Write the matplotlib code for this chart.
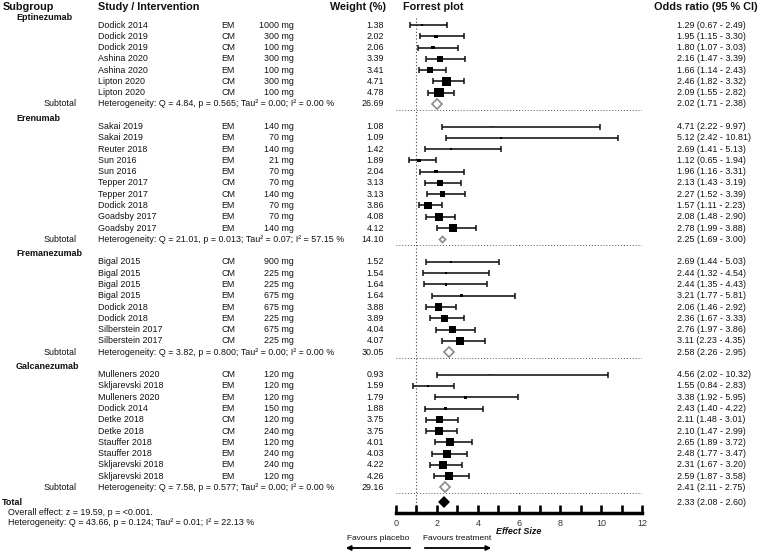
import matplotlib
matplotlib.use('Agg')
import matplotlib.pyplot as plt
from matplotlib.transforms import blended_transform_factory
from matplotlib.patches import FancyArrowPatch

plt.rcParams['font.family'] = ['Liberation Sans', 'DejaVu Sans']

# ---------------- data ----------------
groups = ['Eptinezumab', 'Erenumab', 'Fremanezumab', 'Galcanezumab']

ept_study = ['Dodick 2014', 'Dodick 2019', 'Dodick 2019', 'Ashina 2020', 'Ashina 2020', 'Lipton 2020', 'Lipton 2020']
ept_type = ['EM', 'CM', 'CM', 'EM', 'EM', 'CM', 'CM']
ept_dose = ['1000 mg', '300 mg', '100 mg', '300 mg', '100 mg', '300 mg', '100 mg']
ept_weight = [1.38, 2.02, 2.06, 3.39, 3.41, 4.71, 4.78]
ept_or = [1.29, 1.95, 1.80, 2.16, 1.66, 2.46, 2.09]
ept_lo = [0.67, 1.15, 1.07, 1.47, 1.14, 1.82, 1.55]
ept_hi = [2.49, 3.30, 3.03, 3.39, 2.43, 3.32, 2.82]

ere_study = ['Sakai 2019', 'Sakai 2019', 'Reuter 2018', 'Sun 2016', 'Sun 2016', 'Tepper 2017', 'Tepper 2017',
             'Dodick 2018', 'Goadsby 2017', 'Goadsby 2017']
ere_type = ['EM', 'EM', 'EM', 'EM', 'EM', 'CM', 'CM', 'EM', 'EM', 'EM']
ere_dose = ['140 mg', '70 mg', '140 mg', '21 mg', '70 mg', '70 mg', '140 mg', '70 mg', '70 mg', '140 mg']
ere_weight = [1.08, 1.09, 1.42, 1.89, 2.04, 3.13, 3.13, 3.86, 4.08, 4.12]
ere_or = [4.71, 5.12, 2.69, 1.12, 1.96, 2.13, 2.27, 1.57, 2.08, 2.78]
ere_lo = [2.22, 2.42, 1.41, 0.65, 1.16, 1.43, 1.52, 1.11, 1.48, 1.99]
ere_hi = [9.97, 10.81, 5.13, 1.94, 3.31, 3.19, 3.39, 2.23, 2.90, 3.88]

fre_study = ['Bigal 2015', 'Bigal 2015', 'Bigal 2015', 'Bigal 2015', 'Dodick 2018', 'Dodick 2018',
             'Silberstein 2017', 'Silberstein 2017']
fre_type = ['CM', 'CM', 'EM', 'EM', 'EM', 'EM', 'CM', 'CM']
fre_dose = ['900 mg', '225 mg', '225 mg', '675 mg', '675 mg', '225 mg', '675 mg', '225 mg']
fre_weight = [1.52, 1.54, 1.64, 1.64, 3.88, 3.89, 4.04, 4.07]
fre_or = [2.69, 2.44, 2.44, 3.21, 2.06, 2.36, 2.76, 3.11]
fre_lo = [1.44, 1.32, 1.35, 1.77, 1.46, 1.67, 1.97, 2.23]
fre_hi = [5.03, 4.54, 4.43, 5.81, 2.92, 3.33, 3.86, 4.35]

gal_study = ['Mulleners 2020', 'Skljarevski 2018', 'Mulleners 2020', 'Dodick 2014', 'Detke 2018', 'Detke 2018',
             'Stauffer 2018', 'Stauffer 2018', 'Skljarevski 2018', 'Skljarevski 2018']
gal_type = ['CM', 'EM', 'EM', 'EM', 'CM', 'CM', 'EM', 'EM', 'EM', 'EM']
gal_dose = ['120 mg', '120 mg', '120 mg', '150 mg', '120 mg', '240 mg', '120 mg', '240 mg', '240 mg', '120 mg']
gal_weight = [0.93, 1.59, 1.79, 1.88, 3.75, 3.75, 4.01, 4.03, 4.22, 4.26]
gal_or = [4.56, 1.55, 3.38, 2.43, 2.11, 2.10, 2.65, 2.48, 2.31, 2.59]
gal_lo = [2.02, 0.84, 1.92, 1.40, 1.48, 1.47, 1.89, 1.77, 1.67, 1.87]
gal_hi = [10.32, 2.83, 5.95, 4.22, 3.01, 2.99, 3.72, 3.47, 3.20, 3.58]

subtotal_het = ['Heterogeneity: Q = 4.84, p = 0.565; Tau\u00b2 = 0.00; I\u00b2 = 0.00 %',
                'Heterogeneity: Q = 21.01, p = 0.013; Tau\u00b2 = 0.07; I\u00b2 = 57.15 %',
                'Heterogeneity: Q = 3.82, p = 0.800; Tau\u00b2 = 0.00; I\u00b2 = 0.00 %',
                'Heterogeneity: Q = 7.58, p = 0.577; Tau\u00b2 = 0.00; I\u00b2 = 0.00 %']
subtotal_weight = [26.69, 14.10, 30.05, 29.16]
subtotal_or = [2.02, 2.25, 2.58, 2.41]
subtotal_lo = [1.71, 1.69, 2.26, 2.11]
subtotal_hi = [2.38, 3.00, 2.95, 2.75]

total_or, total_lo, total_hi = 2.33, 2.08, 2.60
total_effect = 'Overall effect: z = 19.59, p = <0.001.'
total_het = 'Heterogeneity: Q = 43.66, p = 0.124; Tau\u00b2 = 0.01; I\u00b2 = 22.13 %'

x_ticks = [0, 2, 4, 6, 8, 10, 12]

group_data = [
    (ept_study, ept_type, ept_dose, ept_weight, ept_or, ept_lo, ept_hi),
    (ere_study, ere_type, ere_dose, ere_weight, ere_or, ere_lo, ere_hi),
    (fre_study, fre_type, fre_dose, fre_weight, fre_or, fre_lo, fre_hi),
    (gal_study, gal_type, gal_dose, gal_weight, gal_or, gal_lo, gal_hi),
]

# ---------------- layout ----------------
W, H = 760, 552
ROW0, STEP = 25.0, 11.28          # pixel y of first row, row spacing
AX_LEFT, AX_RIGHT, AX_BOTTOM = 396, 642, 513

def idx(ypx):
    return (ypx - ROW0) / STEP

fig = plt.figure(figsize=(W / 100, H / 100), dpi=100)
ax = fig.add_axes([AX_LEFT / W, (H - AX_BOTTOM) / H, (AX_RIGHT - AX_LEFT) / W, AX_BOTTOM / H])
ax.set_xlim(0, 12)
ax.set_ylim(idx(AX_BOTTOM), idx(0))
ax.patch.set_visible(False)
for s in ['top', 'left', 'right']:
    ax.spines[s].set_visible(False)
ax.spines['bottom'].set_linewidth(2.5)
ax.set_yticks([])
ax.set_xticks(x_ticks)
ax.set_xticks(range(1, 12, 2), minor=True)
ax.tick_params(axis='x', which='both', direction='in', length=5.5, width=1.9, colors='black',
               labelsize=6.5, labelcolor='#333333', pad=4.5)

tr = blended_transform_factory(fig.transFigure, ax.transData)

def txt(xpx, y, s, ha='left', size=6.4, weight='normal', style='normal', color='#111111'):
    t = fig.text(xpx / W, 0, s, transform=tr, ha=ha, va='center', fontsize=size,
                 fontweight=weight, fontstyle=style, color=color)
    t.set_position((xpx / W, y))

# header
hy = -1.6
txt(3, hy, 'Subgroup', size=7.8, weight='bold')
txt(98, hy, 'Study / Intervention', size=7.8, weight='bold')
txt(386, hy, 'Weight (%)', ha='right', size=7.8, weight='bold')
txt(403, hy, 'Forrest plot', size=7.8, weight='bold')
txt(654, hy, 'Odds ratio (95 % CI)', size=7.8, weight='bold')

def sq_side_px(w):
    return max(1.6, 2.15 * w - 0.9)

PT = 0.72  # points per pixel at 100 dpi
ax.vlines(1, idx(18), idx(AX_BOTTOM), colors='#444444', linestyles=(0, (1, 2)), lw=0.8, zorder=1)

start = 0
last_sub = 0
for g, name in enumerate(groups):
    study, typ, dose, weight, orv, lo, hi = group_data[g]
    n = len(study)
    txt(16, start - 0.7, name, size=6.5, weight='bold')
    ys = [start + i for i in range(n)]
    for i in range(n):
        y = ys[i]
        txt(98, y, study[i])
        txt(228, y, typ[i], ha='center')
        txt(294, y, dose[i], ha='right')
        txt(384, y, f'{weight[i]:.2f}', ha='right')
        txt(677, y, f'{orv[i]:.2f} ({lo[i]:.2f} - {hi[i]:.2f})')
    ax.errorbar(orv, ys, xerr=[[o - l for o, l in zip(orv, lo)], [h - o for o, h in zip(orv, hi)]],
                fmt='none', ecolor='#111111', elinewidth=1.15, capsize=2.0, capthick=1.1, zorder=2)
    ax.scatter(orv, ys, s=[(sq_side_px(w) * PT) ** 2 for w in weight], marker='s', c='black',
               linewidths=0, zorder=3)
    sy = start + n
    txt(77, sy, 'Subtotal', ha='right')
    txt(98, sy, subtotal_het[g])
    txt(384, sy, f'{subtotal_weight[g]:.2f}', ha='right')
    txt(677, sy, f'{subtotal_or[g]:.2f} ({subtotal_lo[g]:.2f} - {subtotal_hi[g]:.2f})')
    dw = 0.25 * subtotal_weight[g] + 2.5
    ax.plot([subtotal_or[g]], [sy], marker='D', ms=dw * PT / 1.414, mfc='white', mec='#8a8a8a',
            mew=1.2, ls='none', zorder=3)
    ax.hlines(sy + 0.5, 0, 12, colors='#555555', linestyles=(0, (1, 2)), lw=0.7, zorder=1)
    last_sub = sy
    start = sy + 2

ty = last_sub + 1.3
txt(2, ty, 'Total', size=6.5, weight='bold')
txt(8, ty + 0.9, total_effect)
txt(8, ty + 1.8, total_het)
txt(677, ty, f'{total_or:.2f} ({total_lo:.2f} - {total_hi:.2f})')
ax.plot([total_or], [ty], marker='D', ms=11 * PT / 1.414, mfc='black', mec='black', mew=0,
        ls='none', zorder=3, clip_on=False)

ax.text(6, idx(532), 'Effect Size', ha='center', va='center', fontsize=6.5,
        fontweight='bold', fontstyle='italic', color='#111111', clip_on=False)

# favours labels and arrows
fig.text(378 / W, (H - 538) / H, 'Favours placebo', ha='center', va='center', fontsize=6.0, color='#111111')
fig.text(457 / W, (H - 538) / H, 'Favours treatment', ha='center', va='center', fontsize=6.0, color='#111111')
ay = (H - 548) / H
fig.patches.append(FancyArrowPatch((413 / W, ay), (343 / W, ay), transform=fig.transFigure,
                                   arrowstyle='-|>', mutation_scale=7, lw=1.3, color='black'))
fig.patches.append(FancyArrowPatch((422 / W, ay), (494 / W, ay), transform=fig.transFigure,
                                   arrowstyle='-|>', mutation_scale=7, lw=1.3, color='black'))

fig.savefig('out.png', dpi=100)
